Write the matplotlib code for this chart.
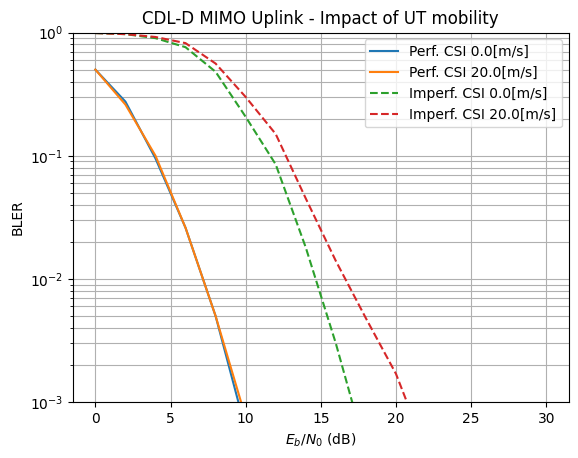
import numpy as np
import matplotlib.pyplot as plt

# Eb/N0 points (dB)
ebno_perf = [0, 2, 4, 6, 8, 10]
ebno_imperf = [0, 2, 4, 6, 8, 10, 12, 14, 16, 18, 20, 22]

# BLER values
bler_perf_0 = [0.5, 0.275, 0.095, 0.026, 0.005, 0.0006]
bler_perf_20 = [0.5, 0.26, 0.1, 0.026, 0.005, 0.00075]
bler_imperf_0 = [0.99, 0.97, 0.90, 0.76, 0.48, 0.207, 0.085, 0.018, 0.003, 0.0004, 0.0001, 0.00005]
bler_imperf_20 = [0.99, 0.97, 0.92, 0.82, 0.56, 0.30, 0.15, 0.045, 0.014, 0.0048, 0.0017, 0.0004]

labels = ['Perf. CSI 0.0[m/s]', 'Perf. CSI 20.0[m/s]',
          'Imperf. CSI 0.0[m/s]', 'Imperf. CSI 20.0[m/s]']

fig = plt.figure(figsize=(5.78, 4.58), dpi=100)
ax = fig.add_axes([0.126, 0.122, 0.858, 0.807])

ax.semilogy(ebno_perf, bler_perf_0, '-', color='tab:blue', label=labels[0])
ax.semilogy(ebno_perf, bler_perf_20, '-', color='tab:orange', label=labels[1])
ax.semilogy(ebno_imperf, bler_imperf_0, '--', color='tab:green', label=labels[2])
ax.semilogy(ebno_imperf, bler_imperf_20, '--', color='tab:red', label=labels[3])

ax.set_xlim(-1.5, 31.5)
ax.set_ylim(1e-3, 1)
ax.set_xticks([0, 5, 10, 15, 20, 25, 30])
ax.grid(which='both')
ax.set_xlabel(r'$E_b/N_0$ (dB)')
ax.set_ylabel('BLER')
ax.set_title('CDL-D MIMO Uplink - Impact of UT mobility')
ax.legend(loc='upper right')

fig.savefig('out.png', dpi=100)
